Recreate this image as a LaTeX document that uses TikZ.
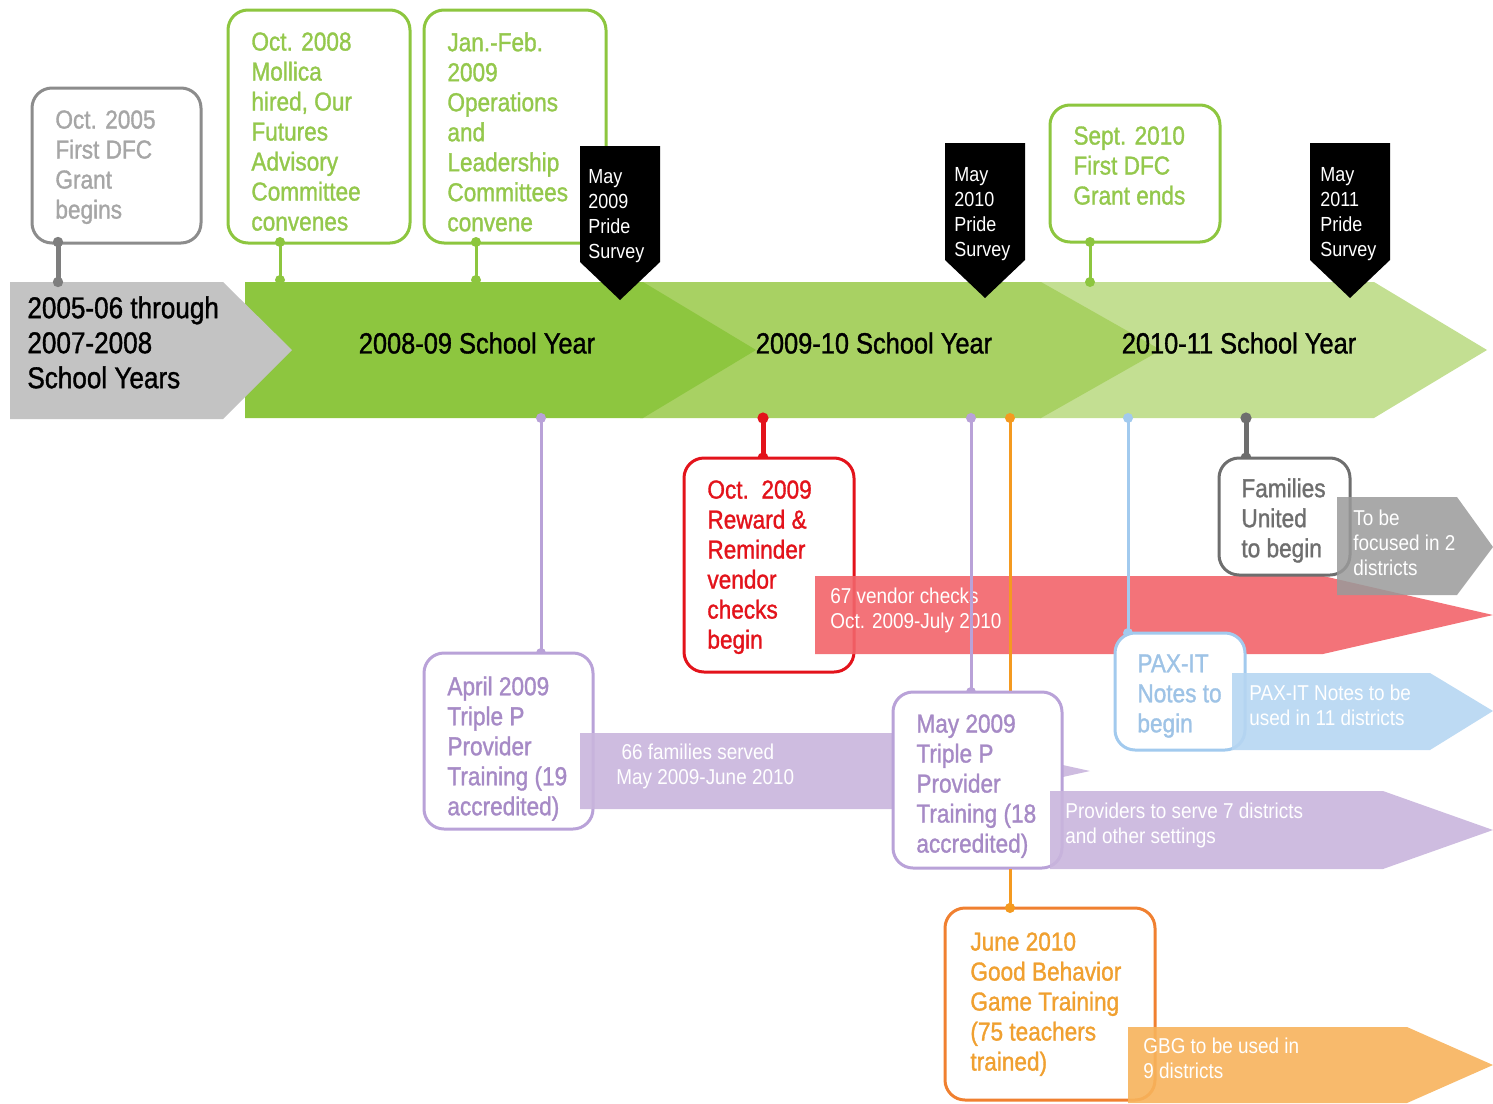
\documentclass[tikz,border=0pt]{standalone}
\usepackage{fontspec}
\setmainfont{Liberation Sans}[FakeStretch=0.88]
\newfontfamily\heavyfont{Liberation Sans}[FakeStretch=0.87, FakeBold=1.2]
\definecolor{bandgrey}{HTML}{C3C3C3}
\definecolor{gA}{HTML}{8DC63F}
\definecolor{gB}{HTML}{A8D163}
\definecolor{gC}{HTML}{C3DF92}
\definecolor{gtext}{HTML}{94C84C}
\definecolor{ltgrey}{HTML}{A6A6A6}
\definecolor{ltgreyb}{HTML}{8C8C8C}
\definecolor{dkgrey}{HTML}{6E6E6E}
\definecolor{greyband}{HTML}{9A9A9A}
\definecolor{purpl}{HTML}{B9A2D8}
\definecolor{purtext}{HTML}{A68AC6}
\definecolor{purband}{HTML}{C9B5DD}
\definecolor{redl}{HTML}{E3131B}
\definecolor{redband}{HTML}{F2646A}
\definecolor{orbord}{HTML}{F08030}
\definecolor{ortext}{HTML}{F0A030}
\definecolor{orline}{HTML}{F49A20}
\definecolor{orband}{HTML}{F7B35C}
\definecolor{bluel}{HTML}{A2CAEE}
\definecolor{bluetext}{HTML}{9EC3E6}
\definecolor{blueband}{HTML}{B6D6F2}
\begin{document}
\begin{tikzpicture}[x=0.5pt,y=-0.5pt,
  txt/.style={anchor=north west, inner sep=0pt, align=left},
  call/.style={txt, font=\heavyfont\fontsize{13}{15}\selectfont},
  ytitle/.style={inner sep=0pt, font=\heavyfont\fontsize{14.6}{17.5}\selectfont},
  pride/.style={txt, text=white, font=\fontsize{10.2}{12.5}\selectfont},
  wtxt/.style={txt, text=white, font=\fontsize{10.75}{12.5}\selectfont},
  cbox/.style={line width=1.5pt, rounded corners=10pt, fill=white},
  link/.style={line width=1.5pt},
  thicklink/.style={line width=2.5pt},
  band/.style={fill opacity=0.9},
]
\useasboundingbox (0,0) rectangle (1493,1103);

% ---------- school-year bands ----------
\fill[gC] (1040,282) -- (1374,282) -- (1487,350) -- (1374,418) -- (1040,418) -- cycle;
\fill[gB] (640,282) -- (1041,282) -- (1161,350) -- (1041,418) -- (640,418) -- cycle;
\fill[gA] (245,282) -- (643,282) -- (756,350) -- (643,418) -- (245,418) -- cycle;
\fill[bandgrey] (10,282) -- (223,282) -- (292,350) -- (223,419) -- (10,419) -- cycle;
\node[txt, font=\heavyfont\fontsize{15}{17.5}\selectfont] (y0) at (27,296) {2005-06 through\\2007-2008\\School Years};
\node[ytitle] (y1) at (477,343) {2008-09 School Year};
\node[ytitle] (y2) at (874,343) {2009-10 School Year};
\node[ytitle] (y3) at (1239,343) {2010-11 School Year};

% ---------- callouts above ----------
\draw[cbox, draw=ltgreyb] (32,88) rectangle (201,243);
\node[call, text=ltgrey] (c0) at (55,110) {Oct. 2005\\First DFC\\Grant\\begins};
\coordinate (c0a) at (58,242); \coordinate (c0b) at (58,282);
\draw[thicklink, draw=ltgreyb!90!black] (c0a) -- (c0b);
\fill[ltgreyb!90!black] (c0a) circle (2.6pt) (c0b) circle (2.6pt);

\draw[cbox, draw=gA] (228,10) rectangle (410,243);
\node[call, text=gtext] (c1) at (251,32) {Oct. 2008\\Mollica\\hired, Our\\Futures\\Advisory\\Committee\\convenes};
\coordinate (c1a) at (280,242); \coordinate (c1b) at (280,280);
\draw[link, draw=gA] (c1a) -- (c1b);
\fill[gA] (c1a) circle (2.5pt) (c1b) circle (2.5pt);

\draw[cbox, draw=gA] (424,10) rectangle (606,243);
\node[call, text=gtext] (c2) at (447,32) {Jan.-Feb.\\2009\\Operations\\and\\Leadership\\Committees\\convene};
\coordinate (c2a) at (476,242); \coordinate (c2b) at (476,280);
\draw[link, draw=gA] (c2a) -- (c2b);
\fill[gA] (c2a) circle (2.5pt) (c2b) circle (2.5pt);

\draw[cbox, draw=gA] (1050,105) rectangle (1220,242);
\node[call, text=gtext] (c3) at (1073,126) {Sept. 2010\\First DFC\\Grant ends};
\coordinate (c3a) at (1090,242); \coordinate (c3b) at (1090,282);
\draw[link, draw=gA] (c3a) -- (c3b);
\fill[gA] (c3a) circle (2.5pt) (c3b) circle (2.5pt);

% ---------- Pride Survey flags ----------
\fill[black] (580,146) -- (660,146) -- (660,262) -- (620,300) -- (580,262) -- cycle;
\node[pride] (s1) at (588,169) {May\\2009\\Pride\\Survey};
\fill[black] (945,143) -- (1025,143) -- (1025,260) -- (985,298) -- (945,260) -- cycle;
\node[pride] (s2) at (954,167) {May\\2010\\Pride\\Survey};
\fill[black] (1310,143) -- (1390,143) -- (1390,260) -- (1350,298) -- (1310,260) -- cycle;
\node[pride] (s3) at (1320,167) {May\\2011\\Pride\\Survey};

% ---------- red: reward & reminder ----------
\coordinate (ra) at (763,418); \coordinate (rb) at (763,458);
\draw[thicklink, draw=redl] (ra) -- (rb);
\fill[redl] (ra) circle (2.8pt) (rb) circle (2.8pt);
\draw[cbox, draw=redl] (684,458) rectangle (854,672);
\node[call, text=redl] (r0) at (707,480) {Oct.\ \ 2009\\Reward \&\\Reminder\\vendor\\checks\\begin};
\fill[redband, band] (815,576) -- (1323,576) -- (1493,615) -- (1323,654) -- (815,654) -- cycle;
\node[wtxt] (r1) at (830,588) {67 vendor checks\\Oct. 2009-July 2010};

% ---------- grey: families united ----------
\coordinate (fa) at (1246,418); \coordinate (fb) at (1246,458);
\draw[thicklink, draw=dkgrey] (fa) -- (fb);
\fill[dkgrey] (fa) circle (2.8pt) (fb) circle (2.8pt);
\draw[cbox, draw=dkgrey] (1219,458) rectangle (1350,575);
\node[call, text=dkgrey] (f0) at (1241,478) {Families\\United\\to begin};
\fill[greyband, fill opacity=0.85] (1337,497) -- (1457,497) -- (1493,547) -- (1457,595) -- (1337,595) -- cycle;
\node[wtxt] (f1) at (1353,510) {To be\\focused in 2\\districts};

% ---------- blue: PAX-IT ----------
\coordinate (ba) at (1128,418); \coordinate (bb) at (1128,633);
\draw[link, draw=bluel] (ba) -- (bb);
\fill[bluel] (ba) circle (2.5pt) (bb) circle (2.5pt);
\draw[cbox, draw=bluel] (1115,633) rectangle (1245,750);
\node[call, text=bluetext] (b0) at (1137,654) {PAX-IT\\Notes to\\begin};
\fill[blueband, band] (1232,673) -- (1430,673) -- (1493,711) -- (1430,750) -- (1232,750) -- cycle;
\node[wtxt] (b1) at (1249,685) {PAX-IT Notes to be\\used in 11 districts};

% ---------- purple and orange lines ----------
\coordinate (pa) at (541,418); \coordinate (pb) at (541,653);
\draw[link, draw=purpl] (pa) -- (pb);
\fill[purpl] (pa) circle (2.5pt) (pb) circle (2.5pt);
\coordinate (qa) at (971,418); \coordinate (qb) at (971,692);
\draw[link, draw=purpl] (qa) -- (qb);
\fill[purpl] (qa) circle (2.5pt) (qb) circle (2.5pt);
\coordinate (oa) at (1010,418); \coordinate (ob) at (1010,908);
\draw[link, draw=orline] (oa) -- (ob);
\fill[orline] (oa) circle (2.5pt) (ob) circle (2.5pt);

% ---------- purple: April 2009 ----------
\draw[cbox, draw=purpl] (424,653) rectangle (593,829);
\node[call, text=purtext] (p0) at (447,676) {April 2009\\Triple P\\Provider\\Training (19\\accredited)};
\fill[purband, band] (580,733) -- (918,733) -- (1090,771) -- (918,809) -- (580,809) -- cycle;
\node[wtxt] (p1) at (616,744) {\ 66 families served\\May 2009-June 2010};

% ---------- purple: May 2009 ----------
\draw[cbox, draw=purpl] (893,692) rectangle (1062,868);
\node[call, text=purtext] (q0) at (916,714) {May 2009\\Triple P\\Provider\\Training (18\\accredited)};
\fill[purband, band] (1050,791) -- (1383,791) -- (1493,830) -- (1383,869) -- (1050,869) -- cycle;
\node[wtxt] (q1) at (1065,803) {Providers to serve 7 districts\\and other settings};
\draw[link, draw=orline] (1010,869) -- (ob);

% ---------- orange: June 2010 ----------
\draw[cbox, draw=orbord] (945,908) rectangle (1155,1100);
\fill[orline] (ob) circle (2.5pt);
\node[call, text=ortext] (o0) at (970,932) {June 2010\\Good Behavior\\Game Training\\(75 teachers\\trained)};
\fill[orband, band] (1128,1027) -- (1407,1027) -- (1493,1065) -- (1407,1103) -- (1128,1103) -- cycle;
\node[wtxt] (o1) at (1143,1038) {GBG to be used in\\9 districts};
\end{tikzpicture}
\end{document}
